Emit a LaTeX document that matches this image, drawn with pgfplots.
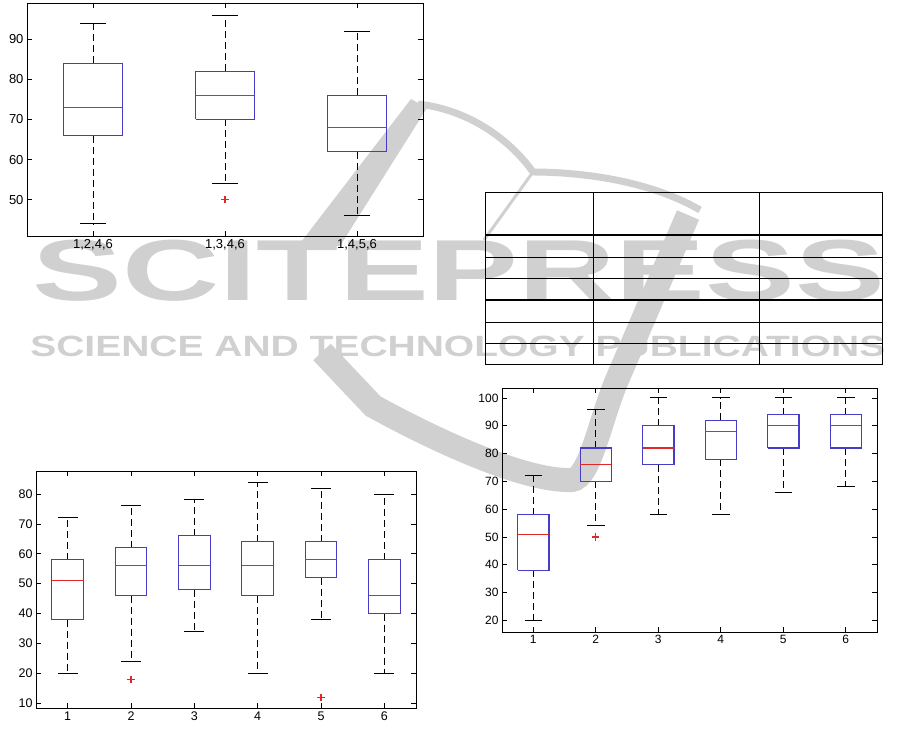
\documentclass[border=0pt]{standalone}
\usepackage{pgfplots}
\pgfplotsset{compat=1.18}
\usepackage{fontspec}
\setmainfont{Liberation Sans}
\definecolor{wm}{RGB}{208,208,208}
\definecolor{boxblue}{RGB}{70,60,200}
\definecolor{medred}{RGB}{225,40,40}
\newsavebox\wbA
\newsavebox\wbB
\pgfplotsset{
  panel/.style={
    scale only axis, anchor=south west,
    axis line style={black, line width=0.9pt},
    tick style={black, line width=0.7pt},
    major tick length=5pt, tick align=inside,
    /pgf/number format/assume math mode=true,
  },
  bpW/.style={color=black, mark=none, line width=1pt, dash pattern=on 7pt off 4pt},
  bpC/.style={color=black, mark=none, line width=1pt},
  bpB/.style={color=boxblue, mark=none, line width=1.25pt},
  bpM/.style={color=medred, mark=none, line width=1.25pt},
  bpO/.style={color=medred, only marks, mark=+, mark size=3.6pt, line width=1.2pt},
}
% #1 position, #2 lower whisker, #3 lower quartile, #4 median,
% #5 upper quartile, #6 upper whisker, #7 half box width, #8 half cap width
\newcommand{\bxp}[8]{%
  \pgfmathsetmacro\bxL{#1-#7}\pgfmathsetmacro\bxR{#1+#7}%
  \pgfmathsetmacro\cpL{#1-#8}\pgfmathsetmacro\cpR{#1+#8}%
  \edef\bxtmp{%
    \noexpand\addplot[bpW] coordinates {(#1,#3) (#1,#2)};
    \noexpand\addplot[bpW] coordinates {(#1,#5) (#1,#6)};
    \noexpand\addplot[bpC] coordinates {(\cpL,#2) (\cpR,#2)};
    \noexpand\addplot[bpC] coordinates {(\cpL,#6) (\cpR,#6)};
    \noexpand\addplot[bpB] coordinates {(\bxL,#3) (\bxR,#3) (\bxR,#5) (\bxL,#5) (\bxL,#3)};
    \noexpand\addplot[bpM] coordinates {(\bxL,#4) (\bxR,#4)};
  }\bxtmp
}
\begin{document}
\sbox\wbA{\fontsize{86.6}{90}\selectfont\bfseries SCITEPRESS}%
\sbox\wbB{\fontsize{29.3}{32}\selectfont\bfseries SCIENCE AND TECHNOLOGY PUBLICATIONS}%
\begin{tikzpicture}
\path[use as bounding box] (0pt,0pt) rectangle (915pt,728pt);
% ---- watermark (pixel coordinates, y downward) ----
\begin{scope}[x=1pt, y=-1pt, yshift=728pt]
  \fill[wm] (411,99) -- (427,108) -- (340,246) -- (298,246) -- cycle;
  \draw[wm, line width=7pt] (418,104) .. controls (470,110) and (510,140) .. (533,172)
        .. controls (560,172) and (640,175) .. (700,210);
  \draw[wm, line width=3pt] (533,172) -- (484,240);
  \draw[wm, line width=24pt] (322,352) -- (373,406) .. controls (420,432) and (520,482) .. (572,480)
        .. controls (590,478) and (600,420) .. (617,380) -- (688,215);
\end{scope}
\pgfmathsetmacro\wsA{853/\the\wd\wbA}
\pgfmathsetmacro\wsB{855/\the\wd\wbB}
\begin{scope}[shift={(32pt,426pt)}]
  \node[anchor=south west, inner sep=0pt, text=wm, font=\fontsize{86.6}{90}\selectfont\bfseries,
    xscale=\wsA, transform shape] at (0,0) {SCITEPRESS};
\end{scope}
\begin{scope}[shift={(30pt,371pt)}]
  \node[anchor=south west, inner sep=0pt, text=wm, font=\fontsize{29.3}{32}\selectfont\bfseries,
    xscale=\wsB, transform shape] at (0,0) {SCIENCE AND TECHNOLOGY PUBLICATIONS};
\end{scope}
% ---- table ----
\begin{scope}[x=1pt, y=-1pt, yshift=728pt, line width=1.3pt]
  \draw[black] (485.3,192.7) rectangle (882.7,364.3);
  \draw[black] (593.3,192.7) -- (593.3,364.3);
  \draw[black] (759.3,192.7) -- (759.3,364.3);
  \foreach \yy in {235,257.3,278.3,300,322.3,343.3} \draw[black] (485.3,\yy) -- (882.7,\yy);
\end{scope}
% ---- panel A ----
\begin{axis}[panel, at={(27pt,492pt)}, width=396pt, height=233pt,
  xmin=0.5, xmax=3.5, ymin=41, ymax=99,
  xtick={1,2,3}, xticklabels={{1,2,4,6},{1,3,4,6},{1,4,5,6}},
  ytick={50,60,70,80,90},
  ticklabel style={font=\fontsize{13}{15}\selectfont}]
  \bxp{1}{44}{66}{73}{84}{94}{0.223}{0.1}
  \bxp{2}{54}{70}{76}{82}{96}{0.223}{0.1}
  \bxp{3}{46}{62}{68}{76}{92}{0.223}{0.1}
  \addplot[bpO] coordinates {(2,50)};
\end{axis}
% ---- panel B ----
\begin{axis}[panel, at={(36pt,20pt)}, width=380pt, height=237pt,
  xmin=0.5, xmax=6.5, ymin=8.4, ymax=87.7,
  xtick={1,2,3,4,5,6}, ytick={10,20,30,40,50,60,70,80},
  ticklabel style={font=\fontsize{12.5}{14}\selectfont}]
  \bxp{1}{20}{38}{51}{58}{72}{0.25}{0.16}
  \bxp{2}{24}{46}{56}{62}{76}{0.25}{0.16}
  \bxp{3}{34}{48}{56}{66}{78}{0.25}{0.16}
  \bxp{4}{20}{46}{56}{64}{84}{0.25}{0.16}
  \bxp{5}{38}{52}{58}{64}{82}{0.25}{0.16}
  \bxp{6}{20}{40}{46}{58}{80}{0.25}{0.16}
  \addplot[bpO] coordinates {(2,18) (5,12)};
\end{axis}
% ---- panel C ----
\begin{axis}[panel, at={(502pt,96pt)}, width=375pt, height=244pt,
  xmin=0.5, xmax=6.5, ymin=15.8, ymax=103.6,
  xtick={1,2,3,4,5,6}, ytick={20,30,40,50,60,70,80,90,100},
  ticklabel style={font=\fontsize{12}{14}\selectfont}]
  \bxp{1}{20}{38}{51}{58}{72}{0.25}{0.14}
  \bxp{2}{54}{70}{76}{82}{96}{0.25}{0.14}
  \bxp{3}{58}{76}{82}{90}{100}{0.25}{0.14}
  \bxp{4}{58}{78}{88}{92}{100}{0.25}{0.14}
  \bxp{5}{66}{82}{90}{94}{100}{0.25}{0.14}
  \bxp{6}{68}{82}{90}{94}{100}{0.25}{0.14}
  \addplot[bpO] coordinates {(2,50)};
\end{axis}
\end{tikzpicture}
\end{document}
